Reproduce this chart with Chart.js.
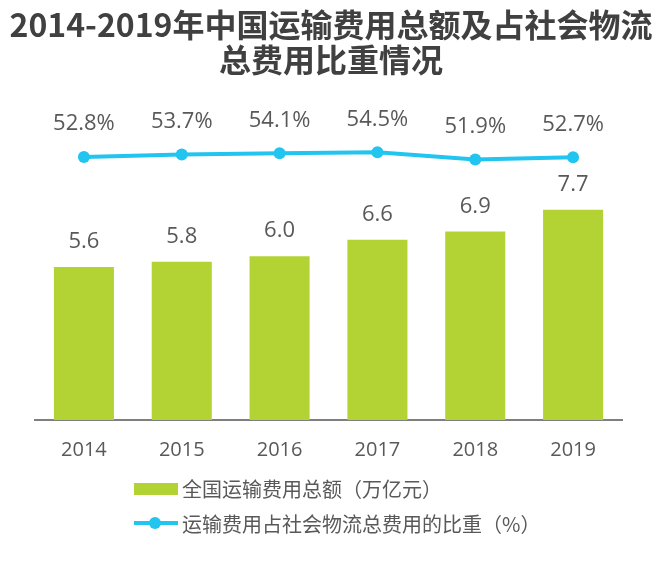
<!DOCTYPE html>
<html>
<head>
<meta charset="utf-8">
<script src="https://cdn.jsdelivr.net/npm/chart.js@4/dist/chart.umd.min.js"></script>
<style>
html,body{margin:0;padding:0;background:#fff;}
#wrap{width:662px;height:579px;}
</style>
</head>
<body>
<div id="wrap"><canvas id="c" width="662" height="579"></canvas></div>
<script>
const titleLines = ['2014-2019年中国运输费用总额及占社会物流', '总费用比重情况'];
const categories = ['2014', '2015', '2016', '2017', '2018', '2019'];
const totalCost = [5.6, 5.8, 6.0, 6.6, 6.9, 7.7];
const sharePct = [52.8, 53.7, 54.1, 54.5, 51.9, 52.7];
const seriesNames = ['全国运输费用总额（万亿元）', '运输费用占社会物流总费用的比重（%）'];

const BAR_COLOR = '#b3d335';
const LINE_COLOR = '#22c5f0';
const TEXT_COLOR = '#595959';
const NUM_FONT = '"Open Sans", "DejaVu Sans", sans-serif';
const CJK_FONT = '"Noto Sans CJK SC", "Noto Sans", sans-serif';

const decorPlugin = {
  id: 'decor',
  afterDraw(chart) {
    const ctx = chart.ctx;
    ctx.save();
    // title
    ctx.fillStyle = '#404040';
    ctx.font = 'bold 32px ' + CJK_FONT;
    ctx.textAlign = 'center';
    ctx.textBaseline = 'middle';
    ctx.fillText(titleLines[0], 331, 25);
    ctx.fillText(titleLines[1], 331, 60);

    // value labels
    ctx.fillStyle = TEXT_COLOR;
    ctx.font = '22px ' + NUM_FONT;
    const barMeta = chart.getDatasetMeta(0);
    barMeta.data.forEach((el, i) => {
      ctx.fillText(totalCost[i].toFixed(1), el.x, el.y - 25);
    });
    const lineMeta = chart.getDatasetMeta(1);
    lineMeta.data.forEach((el, i) => {
      ctx.fillText(sharePct[i].toFixed(1) + '%', el.x, el.y - 33);
    });

    // legend
    ctx.textAlign = 'left';
    ctx.font = '20px ' + CJK_FONT;
    ctx.fillStyle = BAR_COLOR;
    ctx.fillRect(134, 483, 44, 12);
    ctx.fillStyle = TEXT_COLOR;
    ctx.fillText(seriesNames[0], 182, 489);

    ctx.strokeStyle = LINE_COLOR;
    ctx.lineWidth = 4;
    ctx.beginPath();
    ctx.moveTo(134, 523);
    ctx.lineTo(178, 523);
    ctx.stroke();
    ctx.fillStyle = LINE_COLOR;
    ctx.beginPath();
    ctx.arc(155, 523, 6, 0, Math.PI * 2);
    ctx.fill();
    ctx.fillStyle = TEXT_COLOR;
    ctx.fillText(seriesNames[1], 182, 524);
    ctx.restore();
  }
};

new Chart(document.getElementById('c'), {
  data: {
    labels: categories,
    datasets: [
      {
        type: 'bar',
        label: seriesNames[0],
        data: totalCost,
        backgroundColor: BAR_COLOR,
        yAxisID: 'y',
        barPercentage: 0.614,
        categoryPercentage: 1.0,
        order: 2
      },
      {
        type: 'line',
        label: seriesNames[1],
        data: sharePct,
        borderColor: LINE_COLOR,
        backgroundColor: LINE_COLOR,
        borderWidth: 4,
        pointRadius: 6,
        pointBackgroundColor: LINE_COLOR,
        pointBorderWidth: 0,
        tension: 0,
        yAxisID: 'y1',
        order: 1
      }
    ]
  },
  options: {
    responsive: false,
    animation: false,
    devicePixelRatio: 1,
    layout: { padding: { left: 35, right: 40, top: 100, bottom: 99 } },
    plugins: {
      legend: { display: false },
      title: { display: false },
      tooltip: { enabled: false }
    },
    scales: {
      x: {
        grid: { display: false },
        border: { display: true, color: '#7f7f7f', width: 2 },
        ticks: { color: TEXT_COLOR, font: { family: NUM_FONT, size: 20 }, padding: 10 },
        afterFit(scale) { scale.height = 60; }
      },
      y: { display: false, min: 0, max: 11.72 },
      y1: { display: false, min: -41.13, max: 73.16, position: 'right' }
    }
  },
  plugins: [decorPlugin]
});
</script>
</body>
</html>
